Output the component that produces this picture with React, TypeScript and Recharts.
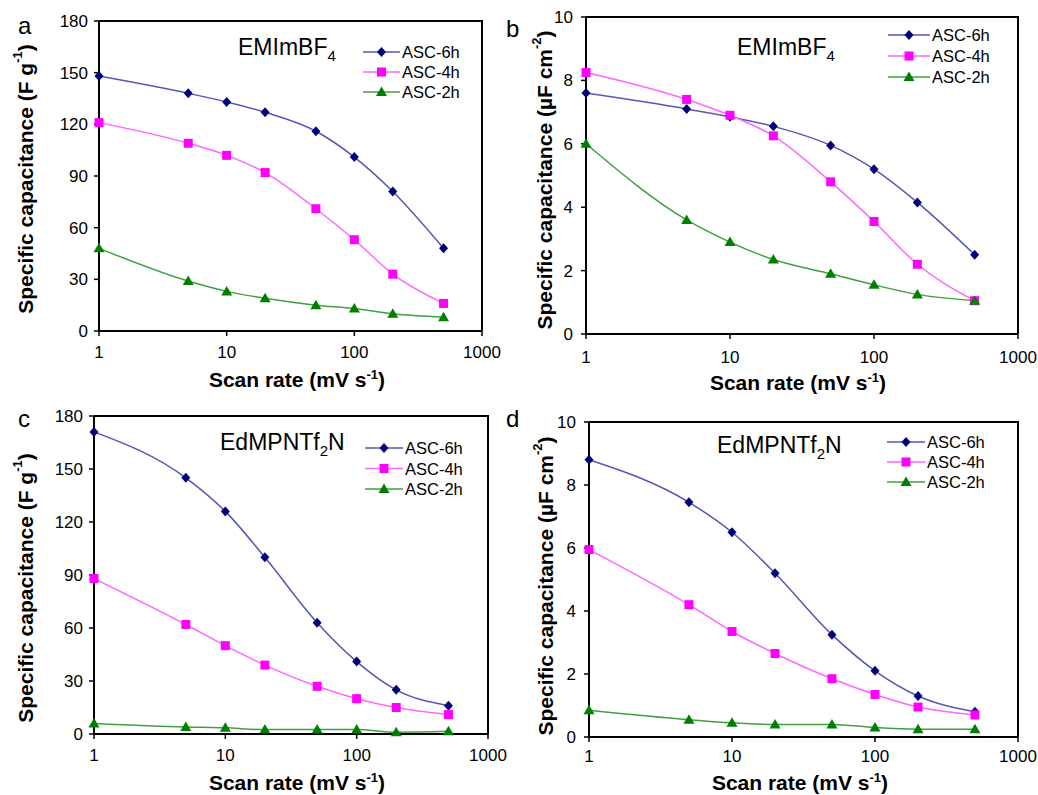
import React from "react";
import { LineChart, Line, XAxis, YAxis, Legend, Label } from "recharts";

// scan rate in mV/s (log axis)
const scanRates = [1, 5, 10, 20, 50, 100, 200, 500];
const xTicks = [1, 10, 100, 1000];
const gravTicks = [0, 30, 60, 90, 120, 150, 180];
const arealTicks = [0, 2, 4, 6, 8, 10];
const seriesNames = ["ASC-6h", "ASC-4h", "ASC-2h"];

// (a) EMImBF4, F/g
const emimGrav6h = [148, 138, 133, 127, 116, 101, 81, 48];
const emimGrav4h = [121, 109, 102, 92, 71, 53, 33, 16];
const emimGrav2h = [48, 29, 23, 19, 15, 13, 10, 8];

// (b) EMImBF4, uF/cm2
const emimAreal6h = [7.6, 7.1, 6.85, 6.55, 5.95, 5.2, 4.15, 2.5];
const emimAreal4h = [8.25, 7.4, 6.9, 6.25, 4.8, 3.55, 2.2, 1.05];
const emimAreal2h = [6.0, 3.6, 2.9, 2.35, 1.9, 1.55, 1.25, 1.05];

// (c) EdMPNTf2N, F/g
const edmpGrav6h = [171, 145, 126, 100, 63, 41, 25, 16];
const edmpGrav4h = [88, 62, 50, 39, 27, 20, 15, 11];
const edmpGrav2h = [6, 4, 3.5, 2.5, 2.5, 2.5, 1, 1.5];

// (d) EdMPNTf2N, uF/cm2
const edmpAreal6h = [8.8, 7.45, 6.5, 5.2, 3.25, 2.1, 1.3, 0.8];
const edmpAreal4h = [5.95, 4.2, 3.35, 2.65, 1.85, 1.35, 0.95, 0.7];
const edmpAreal2h = [0.85, 0.55, 0.45, 0.4, 0.4, 0.3, 0.25, 0.25];

const styles = [
  { key: "s6", line: "#5656b4", mark: "#00007a", shape: "diamond" },
  { key: "s4", line: "#ff66ff", mark: "#ff00ff", shape: "square" },
  { key: "s2", line: "#40a040", mark: "#008000", shape: "triangle" },
];

function toRows(s6: number[], s4: number[], s2: number[]) {
  return scanRates.map((x, i) => ({ x, s6: s6[i], s4: s4[i], s2: s2[i] }));
}

function Marker({ cx, cy, shape, color }: any) {
  if (cx == null || cy == null) return null;
  if (shape === "diamond")
    return <path d={`M${cx},${cy - 5}L${cx + 4.5},${cy}L${cx},${cy + 5}L${cx - 4.5},${cy}Z`} fill={color} />;
  if (shape === "square") return <rect x={cx - 4.5} y={cy - 4.5} width={9} height={9} fill={color} />;
  return <path d={`M${cx},${cy - 5.5}L${cx + 5.5},${cy + 4}L${cx - 5.5},${cy + 4}Z`} fill={color} />;
}

function LegendBox({ lineLen, gap }: { lineLen: number; gap: number }) {
  return (
    <svg width={140} height={gap * 2 + 20}>
      {styles.map((s, i) => {
        const y = 10 + i * gap;
        return (
          <g key={s.key}>
            <line x1={0} x2={lineLen} y1={y} y2={y} stroke={s.line} strokeWidth={1.5} />
            <Marker cx={lineLen / 2} cy={y} shape={s.shape} color={s.mark} />
            <text x={lineLen + 2} y={y} dominantBaseline="central" fontSize={16.5} fill="#000">
              {seriesNames[i]}
            </text>
          </g>
        );
      })}
    </svg>
  );
}

type PanelProps = {
  left: number;
  top: number;
  width: number;
  height: number;
  box: { l: number; t: number; r: number; b: number };
  data: any[];
  yMax: number;
  yTicks: number[];
  unit: "grav" | "areal";
  yLabel: { x: number; cy: number };
  xLabel: { cx: number; y: number };
  xTickMargin: number;
  yTickMargin: number;
  legend: { left: number; top: number; lineLen: number; gap: number };
};

const frame = { stroke: "#000", strokeWidth: 2 };

const panels: PanelProps[] = [
  {
    left: 0, top: 0, width: 519, height: 398,
    box: { l: 99, t: 21, r: 482, b: 331 },
    data: toRows(emimGrav6h, emimGrav4h, emimGrav2h),
    yMax: 180, yTicks: gravTicks, unit: "grav",
    yLabel: { x: 25, cy: 179 }, xLabel: { cx: 297, y: 387 },
    xTickMargin: 10, yTickMargin: 6,
    legend: { left: 363, top: 42, lineLen: 37, gap: 20 },
  },
  {
    left: 519, top: 0, width: 519, height: 398,
    box: { l: 586, t: 17, r: 1018, b: 334 },
    data: toRows(emimAreal6h, emimAreal4h, emimAreal2h),
    yMax: 10, yTicks: arealTicks, unit: "areal",
    yLabel: { x: 544, cy: 180 }, xLabel: { cx: 798, y: 390 },
    xTickMargin: 12, yTickMargin: 8,
    legend: { left: 369, top: 25, lineLen: 42, gap: 21 },
  },
  {
    left: 0, top: 398, width: 519, height: 397,
    box: { l: 94, t: 416, r: 488, b: 734 },
    data: toRows(edmpGrav6h, edmpGrav4h, edmpGrav2h),
    yMax: 180, yTicks: gravTicks, unit: "grav",
    yLabel: { x: 25, cy: 588 }, xLabel: { cx: 297, y: 790 },
    xTickMargin: 10, yTickMargin: 6,
    legend: { left: 365, top: 40, lineLen: 38, gap: 20.5 },
  },
  {
    left: 519, top: 398, width: 519, height: 397,
    box: { l: 589, t: 422, r: 1018, b: 737 },
    data: toRows(edmpAreal6h, edmpAreal4h, edmpAreal2h),
    yMax: 10, yTicks: arealTicks, unit: "areal",
    yLabel: { x: 545, cy: 586 }, xLabel: { cx: 800, y: 790 },
    xTickMargin: 8, yTickMargin: 8,
    legend: { left: 368, top: 34, lineLen: 38, gap: 20 },
  },
];

function Panel(p: PanelProps) {
  const yAxisW = p.box.l - p.left;
  const xAxisH = p.top + p.height - p.box.b;
  const margin = { top: p.box.t - p.top, right: p.left + p.width - p.box.r, left: 0, bottom: 0 };
  const ylx = p.yLabel.x - p.left;
  const ylcy = p.yLabel.cy - p.top;
  const xlcx = p.xLabel.cx - p.left;
  const xly = p.xLabel.y - p.top;
  return (
    <div style={{ position: "absolute", left: p.left, top: p.top, width: p.width, height: p.height }}>
      <LineChart width={p.width} height={p.height} data={p.data} margin={margin}>
        <XAxis
          dataKey="x"
          type="number"
          scale="log"
          domain={[1, 1000]}
          ticks={xTicks}
          height={xAxisH}
          tick={{ fontSize: 17, fill: "#000" }}
          tickSize={5}
          tickMargin={p.xTickMargin}
          axisLine={frame}
          tickLine={{ stroke: "#000", strokeWidth: 1.5 }}
        >
          <Label
            content={() => (
              <text x={xlcx} y={xly} textAnchor="middle" fontSize={21} fontWeight="bold" fill="#000">
                Scan rate (mV s<tspan dy={-8} fontSize={13}>-1</tspan>
                <tspan dy={8}>)</tspan>
              </text>
            )}
          />
        </XAxis>
        <YAxis
          type="number"
          domain={[0, p.yMax]}
          ticks={p.yTicks}
          width={yAxisW}
          tick={{ fontSize: 17, fill: "#000" }}
          tickSize={5}
          tickMargin={p.yTickMargin}
          axisLine={frame}
          tickLine={{ stroke: "#000", strokeWidth: 1.5 }}
        >
          <Label
            content={() => (
              <text
                x={ylx}
                y={ylcy}
                transform={`rotate(-90, ${ylx}, ${ylcy})`}
                textAnchor="middle"
                dominantBaseline="central"
                fontSize={21}
                fontWeight="bold"
                fill="#000"
              >
                {p.unit === "grav" ? "Specific capacitance (F g" : "Specific capacitance (\u00b5F cm"}
                <tspan dy={-8} fontSize={13}>{p.unit === "grav" ? "-1" : "-2"}</tspan>
                <tspan dy={8}>)</tspan>
              </text>
            )}
          />
        </YAxis>
        {styles.map((s, i) => (
          <Line
            key={s.key}
            dataKey={s.key}
            name={seriesNames[i]}
            type="monotone"
            stroke={s.line}
            strokeWidth={1.5}
            isAnimationActive={false}
            dot={(d: any) => <Marker key={`${s.key}-${d.index}`} cx={d.cx} cy={d.cy} shape={s.shape} color={s.mark} />}
            activeDot={false}
          />
        ))}
        <Legend
          layout="vertical"
          align="center"
          verticalAlign="middle"
          wrapperStyle={{ left: p.legend.left, top: p.legend.top, width: 140 }}
          content={() => <LegendBox lineLen={p.legend.lineLen} gap={p.legend.gap} />}
        />
      </LineChart>
    </div>
  );
}

export default function App() {
  return (
    <div
      style={{
        position: "absolute",
        left: 0,
        top: 0,
        width: 1038,
        height: 795,
        background: "#fff",
        fontFamily: '"Liberation Sans", Arial, sans-serif',
      }}
    >
      {panels.map((p, i) => (
        <Panel key={i} {...p} />
      ))}
      <svg
        width={1038}
        height={795}
        style={{ position: "absolute", left: 0, top: 0, pointerEvents: "none" }}
      >
        {/* top and right edges of each plot frame */}
        {panels.map((p, i) => (
          <polyline
            key={i}
            points={`${p.box.l},${p.box.t} ${p.box.r},${p.box.t} ${p.box.r},${p.box.b}`}
            fill="none"
            stroke="#000"
            strokeWidth={2}
          />
        ))}
        <g fontSize={23} fill="#000">
          <text x={238} y={55}>
            EMImBF<tspan dy={6} fontSize={15}>4</tspan>
          </text>
          <text x={737} y={55}>
            EMImBF<tspan dy={6} fontSize={15}>4</tspan>
          </text>
          <text x={220} y={450}>
            EdMPNTf<tspan dy={6} fontSize={15}>2</tspan>
            <tspan dy={-6}>N</tspan>
          </text>
          <text x={717} y={453}>
            EdMPNTf<tspan dy={6} fontSize={15}>2</tspan>
            <tspan dy={-6}>N</tspan>
          </text>
        </g>
        <g fontSize={24} fill="#000">
          <text x={18} y={34}>a</text>
          <text x={506} y={37}>b</text>
          <text x={18} y={427}>c</text>
          <text x={506} y={427}>d</text>
        </g>
      </svg>
    </div>
  );
}
